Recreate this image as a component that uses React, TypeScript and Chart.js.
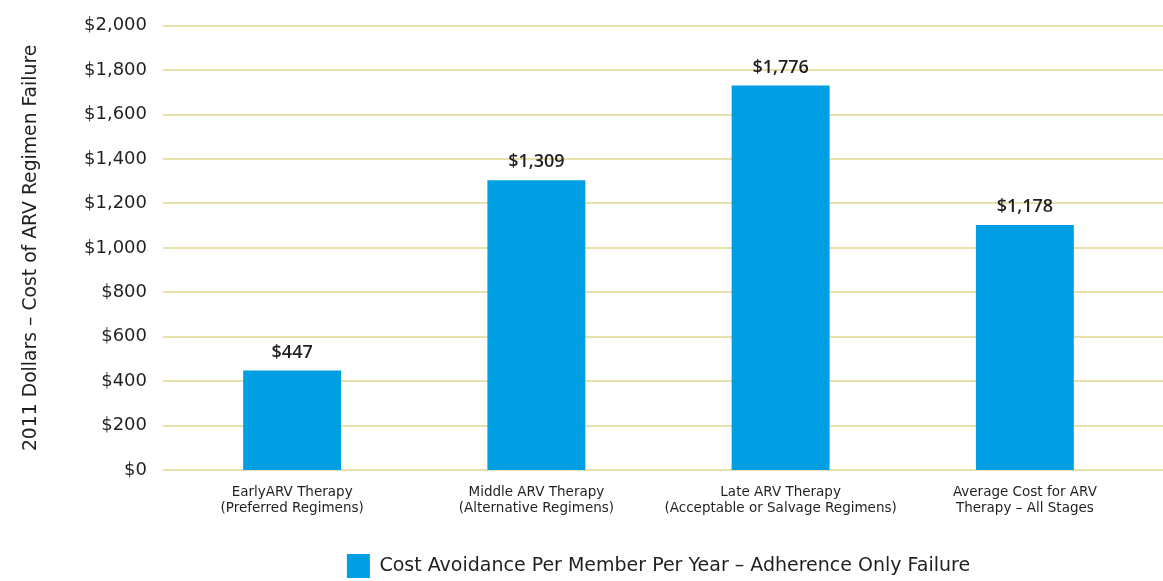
import React, { useEffect, useRef } from "react";
import { Chart, registerables } from "chart.js";

Chart.register(...registerables);

const categories: string[][] = [
  ["EarlyARV Therapy", "(Preferred Regimens)"],
  ["Middle ARV Therapy", "(Alternative Regimens)"],
  ["Late ARV Therapy", "(Acceptable or Salvage Regimens)"],
  ["Average Cost for ARV", "Therapy \u2013 All Stages"],
];
const barValues: number[] = [448, 1305, 1731, 1103];
const valueLabels: string[] = ["$447", "$1,309", "$1,776", "$1,178"];
const seriesName = "Cost Avoidance Per Member Per Year \u2013 Adherence Only Failure";
const yTitle = "2011 Dollars \u2013 Cost of ARV Regimen Failure";
const yMin = 0;
const yMax = 2000;
const yStep = 200;

const FONT = "'DejaVu Sans', sans-serif";
const VFONT = "'Open Sans', sans-serif";
const TEXT = "#231f20";
const BAR = "#009fe3";
const GRID = "#e8e1ab";
const LEGEND_H = 36;

const gridPlugin = {
  id: "extGrid",
  beforeDatasetsDraw(chart: any) {
    const { ctx, scales, width } = chart;
    const y = scales.y;
    ctx.save();
    ctx.strokeStyle = GRID;
    ctx.lineWidth = 2;
    y.ticks.forEach((t: any) => {
      const py = Math.round(y.getPixelForValue(t.value));
      ctx.beginPath();
      ctx.moveTo(chart.chartArea.left - 7, py);
      ctx.lineTo(width, py);
      ctx.stroke();
    });
    ctx.restore();
  },
};

const labelPlugin = {
  id: "valueLabels",
  afterDatasetsDraw(chart: any) {
    const { ctx } = chart;
    const meta = chart.getDatasetMeta(0);
    ctx.save();
    ctx.fillStyle = TEXT;
    ctx.font = `600 18px ${VFONT}`;
    ctx.textAlign = "center";
    ctx.textBaseline = "bottom";
    meta.data.forEach((bar: any, i: number) => {
      ctx.fillText(valueLabels[i], bar.x, bar.y - 9);
    });
    ctx.restore();
  },
};

export default function App() {
  const ref = useRef<HTMLCanvasElement | null>(null);
  useEffect(() => {
    if (!ref.current) return;
    const chart = new Chart(ref.current, {
      type: "bar",
      data: {
        labels: categories,
        datasets: [
          {
            label: seriesName,
            data: barValues,
            backgroundColor: BAR,
            borderWidth: 0,
            barPercentage: 0.401,
            categoryPercentage: 1,
          },
        ],
      },
      options: {
        animation: false,
        responsive: true,
        maintainAspectRatio: false,
        layout: { padding: { top: 24, right: 16, left: 0, bottom: -7 } },
        plugins: {
          legend: {
            position: "bottom",
            fullSize: false,
            labels: {
              color: TEXT,
              font: { family: FONT, size: 19 },
              boxWidth: 23,
              boxHeight: 24,
              padding: 2,
            },
          },
          tooltip: { enabled: false },
        },
        scales: {
          x: {
            grid: { display: false },
            border: { display: false },
            ticks: {
              color: TEXT,
              font: { family: FONT, size: 13.5, lineHeight: 1.2 },
              maxRotation: 0,
              autoSkip: false,
              padding: 6,
            },
            afterFit: (s: any) => {
              s.height = s.chart.height + 7 - LEGEND_H - 470;
            },
          },
          y: {
            min: yMin,
            max: yMax,
            grid: { display: false },
            border: { display: false },
            ticks: {
              stepSize: yStep,
              color: TEXT,
              padding: 15,
              font: { family: FONT, size: 18 },
              callback: (v: any) => "$" + Number(v).toLocaleString("en-US"),
            },
            title: {
              display: true,
              text: yTitle,
              color: TEXT,
              font: { family: FONT, size: 18.8 },
              padding: { top: 20, bottom: 0 },
            },
            afterFit: (s: any) => {
              s.width = 170;
            },
          },
        },
      },
      plugins: [gridPlugin, labelPlugin],
    });
    return () => chart.destroy();
  }, []);
  return (
    <div style={{ position: "absolute", left: 0, top: 0, width: 1163, height: 581, background: "#fff" }}>
      <canvas ref={ref} />
    </div>
  );
}
